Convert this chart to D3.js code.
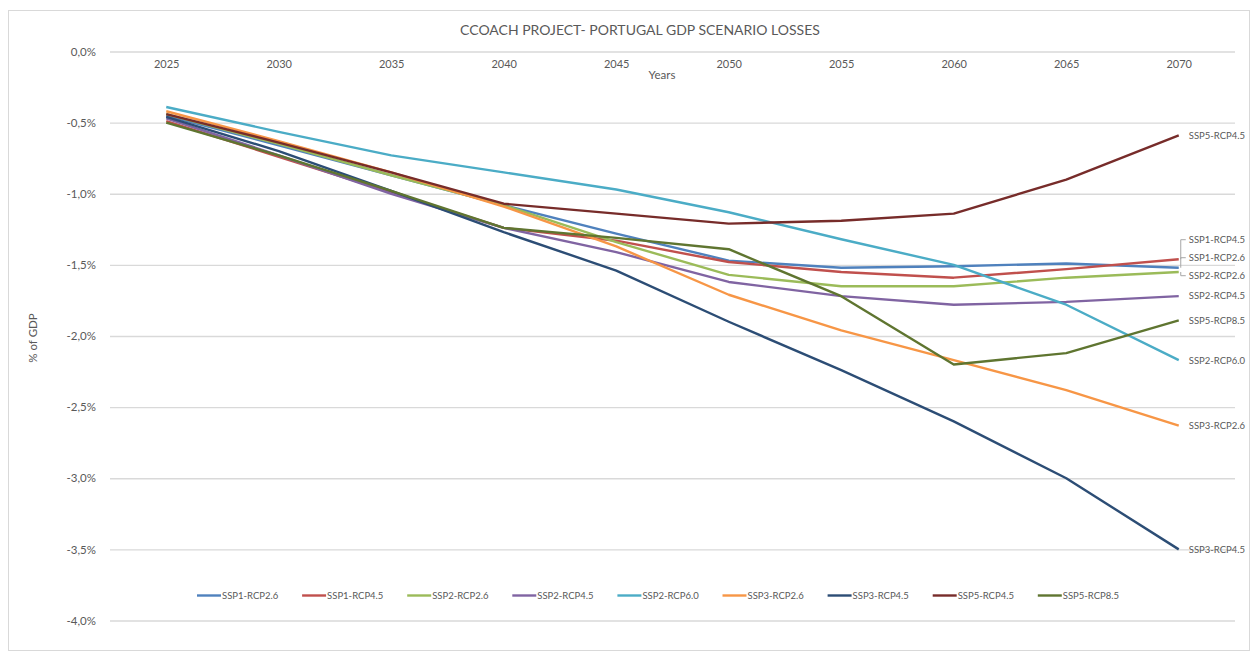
<!DOCTYPE html>
<html>
<head>
<meta charset="utf-8">
<script src="https://cdn.jsdelivr.net/npm/d3@7"></script>
<style>
  html, body { margin: 0; padding: 0; background: #ffffff; }
  svg { display: block; font-family: Lato, "Open Sans", "Liberation Sans", sans-serif; }
</style>
</head>
<body>
<svg id="chart" width="1254" height="656"></svg>
<script>
// Projected GDP losses for Portugal under combined SSP/RCP scenarios (% of GDP)
const years = [2025, 2030, 2035, 2040, 2045, 2050, 2055, 2060, 2065, 2070];

const seriesNames = [
  "SSP1-RCP2.6", "SSP1-RCP4.5", "SSP2-RCP2.6", "SSP2-RCP4.5", "SSP2-RCP6.0",
  "SSP3-RCP2.6", "SSP3-RCP4.5", "SSP5-RCP4.5", "SSP5-RCP8.5"
];

const ssp1Rcp26 = [-0.45, -0.66, -0.87, -1.08, -1.28, -1.47, -1.52, -1.51, -1.49, -1.52];
const ssp1Rcp45 = [-0.49, -0.74, -0.99, -1.24, -1.33, -1.48, -1.55, -1.59, -1.53, -1.46];
const ssp2Rcp26 = [-0.44, -0.65, -0.87, -1.08, -1.34, -1.57, -1.65, -1.65, -1.59, -1.55];
const ssp2Rcp45 = [-0.47, -0.73, -1.00, -1.24, -1.41, -1.62, -1.72, -1.78, -1.76, -1.72];
const ssp2Rcp60 = [-0.39, -0.565, -0.73, -0.85, -0.97, -1.13, -1.32, -1.50, -1.78, -2.17];
const ssp3Rcp26 = [-0.42, -0.63, -0.85, -1.09, -1.37, -1.71, -1.96, -2.17, -2.38, -2.63];
const ssp3Rcp45 = [-0.46, -0.70, -0.98, -1.27, -1.54, -1.90, -2.24, -2.60, -3.00, -3.50];
const ssp5Rcp45 = [-0.44, -0.64, -0.85, -1.07, -1.14, -1.21, -1.19, -1.14, -0.90, -0.59];
const ssp5Rcp85 = [-0.50, -0.73, -0.98, -1.24, -1.31, -1.39, -1.72, -2.20, -2.12, -1.89];

const seriesValues = [
  ssp1Rcp26, ssp1Rcp45, ssp2Rcp26, ssp2Rcp45, ssp2Rcp60,
  ssp3Rcp26, ssp3Rcp45, ssp5Rcp45, ssp5Rcp85
];

const seriesColors = [
  "#4F81BD", "#C0504D", "#9BBB59", "#8064A2", "#4BACC6",
  "#F79646", "#2C4D75", "#772C2A", "#5F7530"
];

const yTicks = [0, -0.5, -1, -1.5, -2, -2.5, -3, -3.5, -4];

const titleText = "CCOACH PROJECT- PORTUGAL GDP SCENARIO LOSSES";
const xAxisTitle = "Years";
const yAxisTitle = "% of GDP";

// ---- layout ----
const svg = d3.select("#chart");
const W = 1254, H = 656;
const plot = { left: 110, right: 1235, top: 51.5, bottom: 620.5 };
const textColor = "#595959";
const gridColor = "#d9d9d9";

// Portuguese number style: comma decimal, plain hyphen minus
const ptLocale = d3.formatLocale({ decimal: ",", thousands: ".", grouping: [3], currency: ["€", ""], minus: "-" });
const pctFmt = v => ptLocale.format(".1f")(v) + "%";

const x = d3.scalePoint().domain(years).range([plot.left, plot.right]).padding(0.5);
const y = d3.scaleLinear().domain([0, -4]).range([plot.top, plot.bottom]);

// chart frame
svg.append("rect")
  .attr("x", 8.5).attr("y", 10.5)
  .attr("width", W - 13).attr("height", H - 16)
  .attr("fill", "#ffffff").attr("stroke", gridColor).attr("stroke-width", 1);

// title
svg.append("text")
  .attr("x", 640).attr("y", 35)
  .attr("text-anchor", "middle")
  .attr("font-size", 14)
  .attr("fill", textColor)
  .text(titleText);

// horizontal gridlines + value axis labels
const yAxis = d3.axisLeft(y)
  .tickValues(yTicks)
  .tickFormat(pctFmt)
  .tickSize(-(plot.right - plot.left))
  .tickPadding(14);

const yG = svg.append("g")
  .attr("transform", `translate(${plot.left},0)`)
  .call(yAxis);
yG.select(".domain").remove();
yG.selectAll(".tick line").attr("stroke", gridColor).attr("stroke-width", 1.3);
yG.selectAll(".tick text")
  .attr("fill", textColor)
  .attr("font-size", 11.5)
  .attr("font-family", "Lato, 'Open Sans', sans-serif");

// category axis labels sit just under the zero line
const xAxis = d3.axisBottom(x).tickSize(0).tickPadding(9);
const xG = svg.append("g")
  .attr("transform", `translate(0,${y(0)})`)
  .call(xAxis);
xG.select(".domain").remove();
xG.selectAll(".tick text")
  .attr("fill", textColor)
  .attr("font-size", 11)
  .attr("font-family", "Lato, 'Open Sans', sans-serif");

// axis titles
svg.append("text")
  .attr("x", 662).attr("y", 79)
  .attr("text-anchor", "middle")
  .attr("font-size", 11.5)
  .attr("fill", textColor)
  .text(xAxisTitle);

svg.append("text")
  .attr("transform", `translate(37,338) rotate(-90)`)
  .attr("text-anchor", "middle")
  .attr("font-size", 11.5)
  .attr("fill", textColor)
  .text(yAxisTitle);

// ---- series lines ----
const series = seriesNames.map((name, i) => ({
  name,
  color: seriesColors[i],
  values: seriesValues[i].map((v, j) => ({ year: years[j], value: v }))
}));

const line = d3.line()
  .x(d => x(d.year))
  .y(d => y(d.value));

svg.append("g")
  .selectAll("path")
  .data(series)
  .join("path")
  .attr("d", d => line(d.values))
  .attr("fill", "none")
  .attr("stroke", d => d.color)
  .attr("stroke-width", 2.4)
  .attr("stroke-linejoin", "round")
  .attr("stroke-linecap", "butt");

// ---- end-of-line labels; overlapping ones are nudged apart, mostly upward ----
const lastYear = years[years.length - 1];
const xEnd = x(lastYear);
const labels = series.map(s => {
  const endY = y(s.values[s.values.length - 1].value);
  return { name: s.name, endY, ly: endY };
}).sort((a, b) => a.endY - b.endY);

const minGap = 18;
const upShare = 0.8;
for (let iter = 0; iter < 400; iter++) {
  let moved = false;
  for (let i = labels.length - 1; i > 0; i--) {
    const gap = labels[i].ly - labels[i - 1].ly;
    if (gap < minGap - 0.01) {
      const need = minGap - gap;
      labels[i - 1].ly -= need * upShare;
      labels[i].ly += need * (1 - upShare);
      moved = true;
    }
  }
  if (!moved) break;
}

const labelG = svg.append("g");
labels.forEach(l => {
  if (Math.abs(l.ly - l.endY) > 2) {
    labelG.append("path")
      .attr("d", `M${xEnd + 2},${l.endY} V${l.ly} H${xEnd + 7}`)
      .attr("fill", "none")
      .attr("stroke", "#a6a6a6")
      .attr("stroke-width", 1);
  }
  labelG.append("text")
    .attr("x", xEnd + 10)
    .attr("y", l.ly)
    .attr("dy", "0.35em")
    .attr("font-size", 9.5)
    .attr("fill", textColor)
    .text(l.name);
});

// ---- legend ----
const legendY = 595.5;
const legendX0 = 197;
const legendStep = 105.1;
const legend = svg.append("g");
series.forEach((s, i) => {
  const lx = legendX0 + i * legendStep;
  legend.append("line")
    .attr("x1", lx).attr("x2", lx + 24)
    .attr("y1", legendY).attr("y2", legendY)
    .attr("stroke", s.color)
    .attr("stroke-width", 2.4);
  legend.append("text")
    .attr("x", lx + 25)
    .attr("y", legendY)
    .attr("dy", "0.35em")
    .attr("font-size", 9.5)
    .attr("fill", textColor)
    .text(s.name);
});
</script>
</body>
</html>
